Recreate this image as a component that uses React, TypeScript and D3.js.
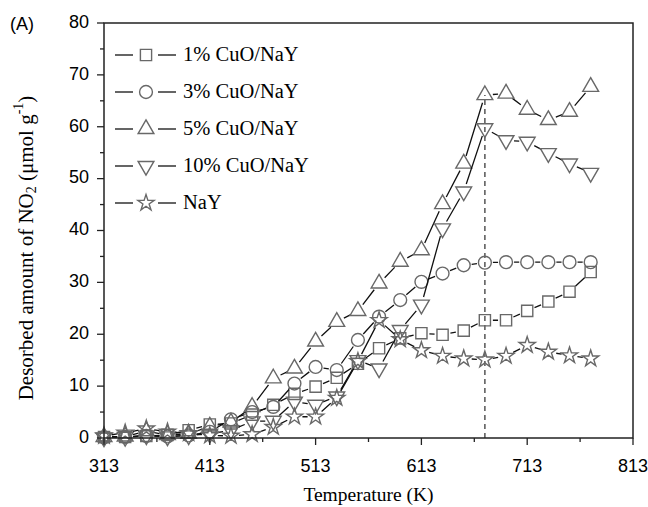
import * as d3 from "d3";

// temperatures (K) for every measured point
const temps = [313, 333, 353, 373, 393, 413, 433, 453, 473, 493, 513, 533, 553, 573, 593, 613, 633, 653, 673, 693, 713, 733, 753, 773];

// desorbed NO2 (umol/g)
const cu1 = [0.2, 0.2, 0.4, 0.6, 1.5, 2.6, 2.8, 4.5, 6.4, 8.5, 9.9, 11.6, 14.3, 17.3, 19.2, 20.2, 19.9, 20.7, 22.7, 22.7, 24.5, 26.3, 28.2, 32.0];
const cu3 = [0.1, 0.2, 0.4, 0.3, 0.5, 1.2, 3.6, 5.0, 6.0, 10.5, 13.7, 13.1, 18.9, 23.4, 26.6, 30.1, 31.7, 33.3, 33.8, 33.9, 33.9, 33.9, 33.9, 33.9];
const cu5 = [0.2, 0.3, 1.3, 0.6, 0.8, 2.2, 3.0, 6.0, 11.5, 13.4, 18.6, 22.4, 24.5, 29.8, 34.0, 36.2, 45.1, 52.9, 66.1, 66.4, 63.3, 61.3, 62.9, 67.7];
const cu10 = [0.1, 0.2, 0.5, 0.3, 0.5, 0.8, 1.5, 3.2, 3.3, 7.0, 6.4, 8.0, 15.0, 13.4, 20.8, 25.7, 40.4, 47.5, 59.7, 57.4, 57.1, 54.9, 52.9, 51.1];
const nay = [0.4, 1.0, 1.8, 1.2, 0.9, 0.5, 0.4, 0.7, 2.1, 4.1, 4.1, 7.7, 14.8, 22.7, 19.0, 16.9, 15.8, 15.3, 15.1, 15.8, 17.9, 16.6, 15.9, 15.3];

const seriesNames = ["1% CuO/NaY", "3% CuO/NaY", "5% CuO/NaY", "10% CuO/NaY", "NaY"];
const seriesValues = [cu1, cu3, cu5, cu10, nay];
const markers = ["square", "circle", "triangle", "down", "star"];

const xTicks = [313, 413, 513, 613, 713, 813];
const xMinor = [363, 463, 563, 663, 763];
const yTicks = [0, 10, 20, 30, 40, 50, 60, 70, 80];
const yMinor = [5, 15, 25, 35, 45, 55, 65, 75];
const peakTemp = 673;

const W = 648, H = 507;
const left = 104, right = 633, top = 23, bottom = 438;
const serif = "'Liberation Serif', 'Times New Roman', serif";
const sans = "'Liberation Sans', Arial, sans-serif";
const markColor = "#686868";

function markerPath(kind: string) {
  const gen = d3.symbol();
  if (kind === "square") return gen.type(d3.symbolSquare).size(125)();
  if (kind === "circle") return gen.type(d3.symbolCircle).size(130)();
  if (kind === "star") return gen.type(d3.symbolStar).size(82)();
  return gen.type(d3.symbolTriangle).size(108)();
}

function Marker({ kind, x, y }: { kind: string; x: number; y: number }) {
  const rot = kind === "down" ? " rotate(180)" : "";
  return (
    <path
      d={markerPath(kind) || ""}
      transform={`translate(${x},${y})${rot}`}
      fill="none"
      stroke={markColor}
      strokeWidth={1.4}
    />
  );
}

// line pieces between markers, stopped short of each marker
function gapSegments(pts: [number, number][], gap: number) {
  const segs: string[] = [];
  for (let i = 0; i < pts.length - 1; i++) {
    const [x0, y0] = pts[i];
    const [x1, y1] = pts[i + 1];
    const len = Math.hypot(x1 - x0, y1 - y0);
    if (len <= gap * 2 + 1) continue;
    const ux = (x1 - x0) / len, uy = (y1 - y0) / len;
    segs.push(`M${x0 + ux * gap},${y0 + uy * gap}L${x1 - ux * gap},${y1 - uy * gap}`);
  }
  return segs.join("");
}

export default function App() {
  const x = d3.scaleLinear().domain([313, 813]).range([left, right]);
  const y = d3.scaleLinear().domain([0, 80]).range([bottom, top]);

  return (
    <svg width={W} height={H} style={{ position: "absolute", left: 0, top: 0, background: "#fff" }}>
      <text x={22} y={25} fontFamily={sans} fontSize={18} textAnchor="middle" dominantBaseline="middle">(A)</text>

      {/* dashed marker line at the peak temperature */}
      <line x1={x(peakTemp)} x2={x(peakTemp)} y1={y(0)} y2={y(cu5[temps.indexOf(peakTemp)])}
        stroke="#555" strokeWidth={1.5} strokeDasharray="5,4" />

      {seriesValues.map((vals, si) => {
        const pts = vals.map((v, i) => [x(temps[i]), y(v)] as [number, number]);
        return (
          <g key={seriesNames[si]}>
            <path d={gapSegments(pts, 8)} fill="none" stroke="#111" strokeWidth={1.3} />
            {pts.map((p, i) => <Marker key={i} kind={markers[si]} x={p[0]} y={p[1]} />)}
          </g>
        );
      })}

      {/* frame */}
      <rect x={left} y={top} width={right - left} height={bottom - top} fill="none" stroke="#222" strokeWidth={1.5} />

      {/* x axis */}
      {xTicks.map(t => (
        <g key={t}>
          <line x1={x(t)} x2={x(t)} y1={bottom} y2={bottom + 7} stroke="#222" strokeWidth={1.3} />
          <text x={x(t)} y={467} fontFamily={sans} fontSize={18} textAnchor="middle" dominantBaseline="middle">{t}</text>
        </g>
      ))}
      {xMinor.map(t => (
        <line key={t} x1={x(t)} x2={x(t)} y1={bottom} y2={bottom + 4} stroke="#222" strokeWidth={1.3} />
      ))}
      <text x={(left + right) / 2} y={497} fontFamily={serif} fontSize={19.5} textAnchor="middle" dominantBaseline="middle">Temperature (K)</text>

      {/* y axis */}
      {yTicks.map(t => (
        <g key={t}>
          <line x1={left - 7} x2={left} y1={y(t)} y2={y(t)} stroke="#222" strokeWidth={1.3} />
          <text x={89} y={y(t)} fontFamily={sans} fontSize={18} textAnchor="end" dominantBaseline="middle">{t}</text>
        </g>
      ))}
      {yMinor.map(t => (
        <line key={t} x1={left - 4} x2={left} y1={y(t)} y2={y(t)} stroke="#222" strokeWidth={1.3} />
      ))}
      <text transform="translate(28,248) rotate(-90)" fontFamily={serif} fontSize={21} textAnchor="middle" dominantBaseline="middle">
        Desorbed amount of  NO<tspan fontSize={14} dy={5}>2</tspan>
        <tspan dy={-5}> (μmol g</tspan><tspan fontSize={14} dy={-8}>-1</tspan><tspan dy={8}>)</tspan>
      </text>

      {/* legend */}
      {seriesNames.map((name, i) => {
        const ly = 55 + i * 37;
        return (
          <g key={name}>
            <line x1={115} x2={133} y1={ly} y2={ly} stroke="#111" strokeWidth={1.3} />
            <line x1={158} x2={176} y1={ly} y2={ly} stroke="#111" strokeWidth={1.3} />
            <Marker kind={markers[i]} x={146} y={ly} />
            <text x={183} y={ly + 1} fontFamily={serif} fontSize={20.5} dominantBaseline="middle">{name}</text>
          </g>
        );
      })}
    </svg>
  );
}
